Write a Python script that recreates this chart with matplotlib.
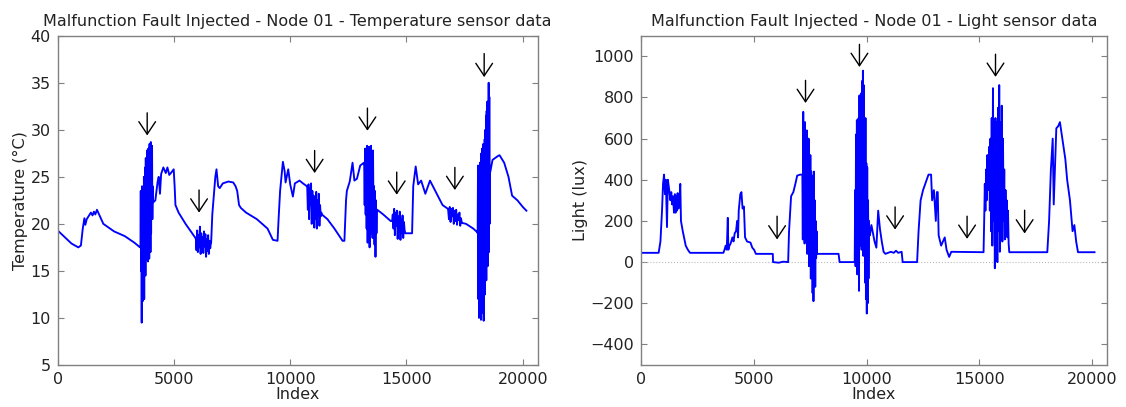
import numpy as np
import matplotlib
matplotlib.use("Agg")
import matplotlib.pyplot as plt

# ---- temperature: smooth parts (index, value)
temp_idx = [0, 300, 600, 890, 1000, 1080, 1150, 1190, 1250, 1430, 1500, 1560, 1620, 1690, 1780,
            1965, 2425, 2885, 3300, 3545,
            4115, 4200, 4300, 4345, 4400, 4450, 4545, 4650, 4720, 4800, 4900, 4990, 5030, 5065,
            5200, 5500, 5925,
            6600, 6650, 6700, 6780, 6830, 6900, 6970, 7100, 7340, 7550, 7650, 7720, 7800, 7875,
            8100, 8565, 9025, 9255, 9455, 9500, 9565, 9685, 9760, 9800, 9915, 10000, 10115, 10200,
            10400, 10550, 10715,
            11360, 11600, 11900, 12250, 12330, 12400, 12435, 12560, 12680, 12760, 12870, 13010, 13170,
            13740, 14000, 14320,
            14965, 15240, 15290, 15330, 15395, 15500, 15630, 15810, 16010, 16240, 16550, 16780,
            17390, 17560, 17870, 18050,
            18600, 18700, 18925, 19000, 19200, 19385, 19540, 19770, 20000, 20155]
temp_val = [19.3, 18.6, 17.9, 17.5, 17.7, 19.5, 20.6, 19.9, 20.5, 21.2, 20.9, 21.3, 21.0, 21.5, 21.0,
            20.0, 19.2, 18.7, 18.0, 17.5,
            22.3, 22.5, 24.5, 25.0, 23.2, 25.3, 26.0, 25.4, 26.0, 25.2, 25.5, 25.8, 24.0, 22.0,
            21.2, 20.0, 18.5,
            18.0, 21.0, 22.5, 25.0, 25.8, 24.0, 23.8, 24.3, 24.5, 24.4, 24.0, 23.5, 22.0, 21.7,
            21.2, 20.5, 19.5, 18.3, 18.2, 20.5, 23.5, 26.6, 25.6, 24.4, 25.8, 24.2, 22.9, 24.3,
            24.6, 24.3, 24.0,
            21.0, 20.5, 19.5, 18.2, 18.2, 22.5, 23.5, 24.5, 26.5, 24.6, 24.8, 26.2, 26.5,
            21.5, 21.0, 20.3,
            19.0, 19.0, 24.0, 24.8, 26.1, 24.2, 24.6, 23.2, 24.6, 23.5, 22.0, 21.6,
            20.1, 20.0, 19.5, 19.1,
            25.5, 26.8, 27.2, 27.3, 26.5, 25.0, 23.0, 22.5, 21.8, 21.4]

# temperature fault bursts (start index, end index) and the values inside
temp_spans = [(3560, 4100), (5940, 6590), (10730, 11340), (13180, 13730),
              (14380, 14950), (16790, 17380), (18060, 18590)]
temp_burst1 = [17.5, 23.5, 15.0, 22.0, 9.5, 24.0, 13.5, 21.5, 11.8, 23.0, 14.0, 25.0, 12.0, 24.5,
               16.5, 26.0, 14.5, 27.0, 17.0, 25.5, 16.2, 27.8, 18.0, 26.5, 16.0, 28.0, 17.5, 27.0,
               16.3, 28.5, 18.5, 27.2, 17.0, 28.7, 19.0, 26.0, 21.0, 28.3, 20.5, 24.0, 22.3]
temp_burst2 = [18.5, 17.2, 19.3, 17.0, 18.8, 17.5, 19.7, 16.8, 19.0, 17.3, 18.6, 16.9, 19.2, 17.6,
               18.9, 16.5, 18.4, 17.1, 18.8, 16.8, 18.2, 17.4, 18.0]
temp_burst3 = [24.0, 21.5, 24.2, 20.5, 23.8, 22.0, 24.3, 20.0, 23.5, 21.0, 23.0, 19.6, 22.8, 20.5,
               23.4, 19.5, 22.5, 21.0, 23.2, 19.8, 22.0, 20.8, 21.2]
temp_burst4 = [26.5, 22.0, 28.0, 21.0, 27.5, 19.5, 28.3, 18.0, 27.0, 21.5, 28.2, 17.5, 26.0, 20.5,
               28.3, 19.0, 25.5, 18.5, 27.8, 21.0, 24.0, 17.8, 23.5, 16.5, 22.5, 19.0, 21.5]
temp_burst5 = [20.3, 21.0, 19.5, 21.6, 18.8, 21.2, 19.8, 21.4, 18.4, 20.8, 19.2, 21.3, 18.3, 20.5,
               19.0, 20.9, 18.5, 20.2, 19.3, 19.0]
temp_burst6 = [21.5, 20.5, 21.8, 20.2, 21.6, 20.8, 21.7, 20.0, 21.4, 20.3, 21.5, 19.9, 21.0, 20.4,
               21.2, 19.8, 20.6, 20.1]
temp_burst7 = [19.0, 26.2, 12.0, 25.0, 10.0, 24.5, 11.5, 26.5, 14.0, 23.0, 9.8, 27.5, 11.0, 28.0,
               13.0, 27.0, 10.5, 28.5, 9.7, 26.0, 15.0, 29.0, 12.5, 30.0, 16.0, 31.5, 14.0, 32.0,
               17.5, 33.0, 15.5, 30.5, 18.0, 35.0, 17.0, 33.5, 20.0, 25.5]

# ---- light: smooth parts
light_idx = [0, 780, 860, 930, 975, 1020, 1060, 1100, 1150, 1190, 1250, 1300, 1340, 1380, 1420,
             1460, 1500, 1530, 1560, 1590, 1620, 1660, 1700, 1740, 1770, 1850, 1980, 2075, 2170,
             3650, 3700, 3750, 3800, 3845, 3870, 3920, 3970, 4050, 4100, 4150, 4210, 4260, 4300,
             4330, 4400, 4450, 4500, 4560, 4610, 4700, 4850, 4930, 5010, 5090, 5840, 5850, 6100,
             6300, 6520, 6560, 6650, 6750, 6840, 6920, 7050, 7140,
             7880, 8755, 8800, 9440,
             10145, 10210, 10350, 10430, 10510, 10590, 10670, 10750, 10830, 11070, 11200, 11300,
             11400, 11550, 11595, 12235, 12300, 12390, 12500, 12630, 12740, 12855, 12900, 12980,
             13065, 13110, 13150, 13190, 13300, 13460, 13540, 13655, 13750, 15135,
             16490, 18005, 18085, 18165, 18245, 18290, 18405, 18485, 18565, 18645, 18805, 18885,
             19010, 19125, 19205, 19285, 19365, 20100]
light_val = [45, 45, 100, 250, 380, 425, 330, 400, 170, 400, 350, 300, 340, 280, 320,
             240, 330, 240, 320, 250, 335, 260, 300, 380, 200, 150, 80, 60, 45,
             45, 60, 80, 60, 215, 60, 80, 90, 120, 100, 140, 150, 200, 120,
             250, 330, 340, 260, 270, 120, 100, 95, 70, 60, 40, 40, 0, -3,
             2, 0, 150, 320, 340, 380, 420, 425, 425,
             40, 40, 0, 0,
             130, 180, 100, 70, 250, 160, 100, 50, 40, 50, 45, 55,
             45, 50, 0, 0, 150, 300, 350, 390, 425, 425, 300, 350,
             200, 340, 340, 130, 80, 120, 60, 25, 50, 48,
             48, 48, 200, 450, 600, 280, 650, 660, 680, 620, 500, 400,
             300, 150, 180, 100, 48, 48]

light_spans = [(7150, 7800), (9470, 10120), (15180, 16320)]
light_burstA = [425, 110, 730, 150, 620, 90, 680, 200, 560, 100, 640, 40, 500, 120, 600, -20,
                430, 60, 520, -80, 440, -30, 420, -150, 380, -190, 440, -60, 300, -120, 200, 20,
                150, 40]
light_burstB = [0, 350, -20, 620, 40, 690, -60, 660, 100, 700, -140, 810, 80, 750, 150, 820, 60,
                880, 120, 930, 30, 860, 200, 600, -100, 700, -180, 480, -250, 460, -200, 300,
                -80, 200, 130]
light_burstC = [48, 200, 380, 250, 450, 300, 520, 350, 480, 560, 250, 600, 150, 700, 80, 845,
                200, 620, -30, 700, 100, 680, 0, 750, 150, 860, 50, 680, 120, 760, 100, 600, 200,
                450, 110, 350, 180, 300, 120, 250, 90, 48]

# arrow marks: index, arrow top, arrow tip
temp_arrow_x = [3850, 6080, 11050, 13320, 14580, 17080, 18340]
temp_arrow_top = [31.8, 23.6, 27.8, 32.3, 25.5, 26.0, 38.1]
temp_arrow_tip = [29.4, 21.2, 25.4, 29.9, 23.1, 23.6, 35.6]
light_arrow_x = [6030, 7290, 9680, 11260, 14450, 15710, 17000]
light_arrow_top = [223, 883, 1058, 268, 223, 1010, 252]
light_arrow_tip = [110, 773, 948, 158, 113, 900, 139]


def build(idx, val, spans, bursts):
    xs = list(idx)
    ys = list(val)
    for (a, b), vals in zip(spans, bursts):
        xs += list(np.linspace(a, b, len(vals)))
        ys += vals
    xs = np.array(xs, dtype=float)
    ys = np.array(ys, dtype=float)
    order = np.argsort(xs, kind="stable")
    return xs[order], ys[order]


def style(ax):
    for s in ax.spines.values():
        s.set_color("#808080")
        s.set_linewidth(1.0)
    ax.tick_params(direction="in", top=True, right=True, length=4, width=0.8,
                   color="#808080", labelsize=11.5, labelcolor="#222222", pad=5)


def arrows(ax, xs, tops, tips):
    for x, t, b in zip(xs, tops, tips):
        ax.annotate("", xy=(x, b), xytext=(x, t),
                    arrowprops=dict(arrowstyle="->,head_length=0.45,head_width=0.3",
                                    color="black", lw=1.0, mutation_scale=20,
                                    shrinkA=0, shrinkB=0))


tx, ty = build(temp_idx, temp_val, temp_spans,
               [temp_burst1, temp_burst2, temp_burst3, temp_burst4,
                temp_burst5, temp_burst6, temp_burst7])
lx, ly = build(light_idx, light_val, light_spans,
               [light_burstA, light_burstB, light_burstC])

fig = plt.figure(figsize=(11.26, 4.07), dpi=100)
ax1 = fig.add_axes([0.0512, 0.1032, 0.4263, 0.8091])
ax2 = fig.add_axes([0.5693, 0.1032, 0.4136, 0.8091])

ax1.plot(tx, ty, color="#0000ff", lw=1.35)
ax1.set_xlim(0, 20640)
ax1.set_ylim(5, 40)
ax1.set_xticks([0, 5000, 10000, 15000, 20000])
ax1.set_yticks([5, 10, 15, 20, 25, 30, 35, 40])
ax1.set_xlabel("Index", fontsize=11.5, color="#222222", labelpad=0)
ax1.set_ylabel("Temperature (°C)", fontsize=11.5, color="#222222", labelpad=2)
ax1.set_title("Malfunction Fault Injected - Node 01 - Temperature sensor data",
              fontsize=11.5, color="#222222", pad=7)
style(ax1)
arrows(ax1, temp_arrow_x, temp_arrow_top, temp_arrow_tip)

ax2.axhline(0, color="#bbbbbb", lw=0.8, ls=":")
ax2.plot(lx, ly, color="#0000ff", lw=1.35)
ax2.set_xlim(0, 20640)
ax2.set_ylim(-500, 1100)
ax2.set_xticks([0, 5000, 10000, 15000, 20000])
ax2.set_yticks([-400, -200, 0, 200, 400, 600, 800, 1000])
ax2.set_xlabel("Index", fontsize=11.5, color="#222222", labelpad=0)
ax2.set_ylabel("Light (lux)", fontsize=11.5, color="#222222", labelpad=2)
ax2.set_title("Malfunction Fault Injected - Node 01 - Light sensor data",
              fontsize=11.5, color="#222222", pad=7)
style(ax2)
arrows(ax2, light_arrow_x, light_arrow_top, light_arrow_tip)

fig.savefig("out.png", dpi=100)
